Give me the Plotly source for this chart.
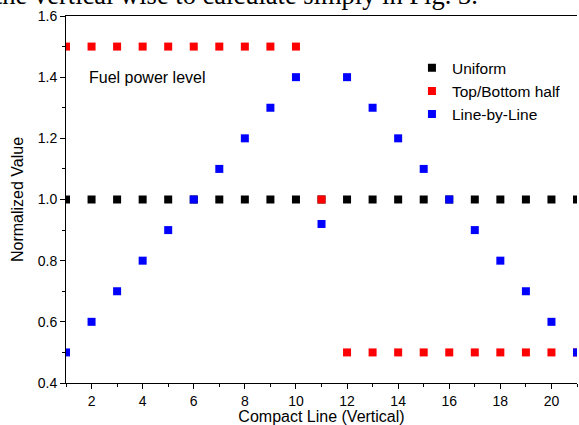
import plotly.graph_objects as go

# Data
lines = list(range(1, 22))
uniform = [1.0] * 21
top_bottom = [1.5] * 10 + [1.0] + [0.5] * 10
line_by_line = [0.5, 0.6, 0.7, 0.8, 0.9, 1.0, 1.1, 1.2, 1.3, 1.4, 0.92,
                1.4, 1.3, 1.2, 1.1, 1.0, 0.9, 0.8, 0.7, 0.6, 0.5]
series_names = ["Uniform", "Top/Bottom half", "Line-by-Line"]
series_colors = ["#000000", "#ff0000", "#0000ff"]
x_ticks = [2, 4, 6, 8, 10, 12, 14, 16, 18, 20]
y_ticks = [0.4, 0.6, 0.8, 1.0, 1.2, 1.4, 1.6]

FONT = "Liberation Sans, Arial, sans-serif"

fig = go.Figure()
for name, vals, col in zip(series_names, [uniform, top_bottom, line_by_line], series_colors):
    fig.add_trace(go.Scatter(
        x=lines, y=vals, mode="markers", name=name,
        marker=dict(symbol="square", size=8, color=col, line=dict(width=0)),
        cliponaxis=True,
    ))

fig.update_layout(
    width=579, height=425,
    margin=dict(l=66, r=2, t=16, b=42),
    paper_bgcolor="white", plot_bgcolor="white",
    font=dict(family=FONT, color="black", size=14),
    showlegend=True,
    legend=dict(
        x=0.677, y=0.904, xanchor="left", yanchor="top",
        font=dict(size=15.5, family=FONT, color="black"),
        bgcolor="rgba(0,0,0,0)", borderwidth=0,
        tracegroupgap=0, itemsizing="trace",
    ),
    xaxis=dict(
        range=[1, 21], tickvals=x_ticks, ticktext=[str(v) for v in x_ticks],
        ticks="outside", ticklen=5, tickwidth=1, tickcolor="black",
        minor=dict(dtick=1, tick0=1, ticks="outside", ticklen=3, tickcolor="black", tickwidth=1),
        showline=True, linecolor="black", linewidth=1, mirror=True,
        showgrid=False, zeroline=False,
        tickfont=dict(size=14, family=FONT),
        title=dict(text="Compact Line (Vertical)", font=dict(size=16, family=FONT), standoff=2),
    ),
    yaxis=dict(
        range=[0.4, 1.6], tickvals=y_ticks, ticktext=["%.1f" % v for v in y_ticks],
        ticks="outside", ticklen=5, tickwidth=1, tickcolor="black",
        minor=dict(dtick=0.1, tick0=0.4, ticks="outside", ticklen=3, tickcolor="black", tickwidth=1),
        showline=True, linecolor="black", linewidth=1, mirror=False,
        showgrid=False, zeroline=False,
        tickfont=dict(size=14, family=FONT),
        title=dict(text="Normalized Value", font=dict(size=16, family=FONT), standoff=10),
    ),
    annotations=[
        dict(text="Fuel power level", x=1.83, y=1.4, xref="x", yref="y",
             xanchor="left", yanchor="middle", showarrow=False,
             font=dict(size=16, family=FONT, color="black")),
        dict(text="the vertical wise to calculate simply in Fig. 3.",
             x=(-7 - 66) / 511, y=1.0567, xref="paper", yref="paper",
             xanchor="left", yanchor="middle", showarrow=False,
             font=dict(size=26.5, family="Liberation Serif, Times New Roman, serif", color="black")),
    ],
)

fig.write_html("out.html")
